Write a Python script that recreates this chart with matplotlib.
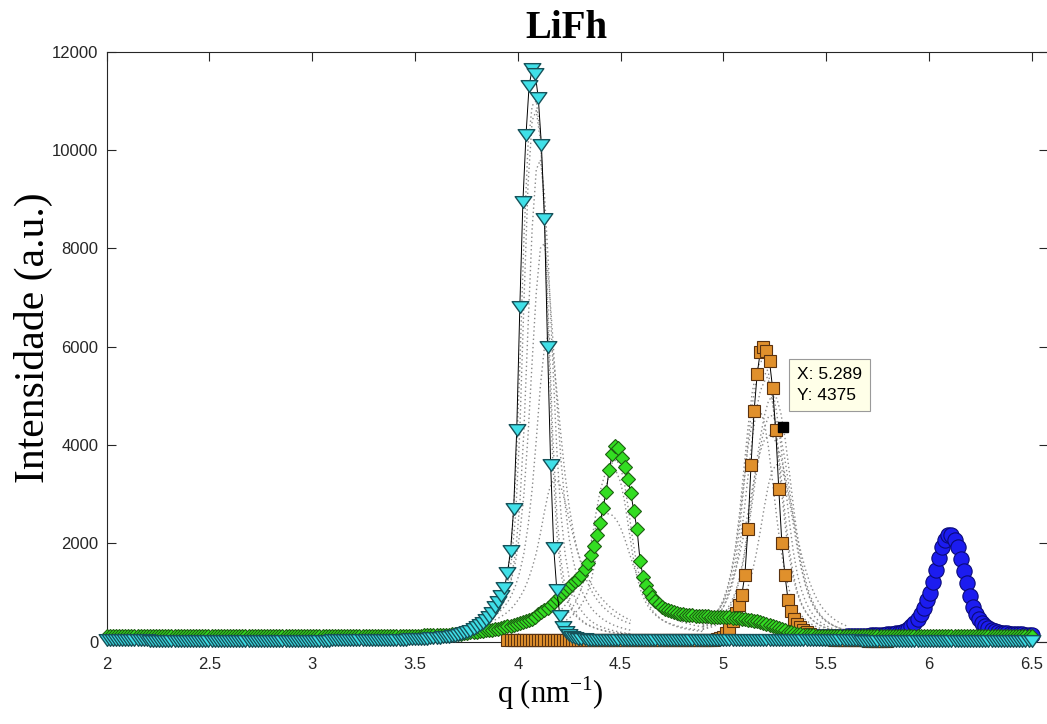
import numpy as np
import matplotlib
matplotlib.use("Agg")
import matplotlib.pyplot as plt
from matplotlib.path import Path

plt.rcParams['font.family'] = 'Liberation Sans'

# q grid of the scans: 2.0 -> 6.5 nm^-1, step 0.015
q = np.linspace(2.0, 6.5, 301)

cyan_int = [
    28, 28, 27, 27, 27, 26, 26, 26, 26, 25,
    25, 25, 25, 25, 24, 24, 24, 24, 24, 24,
    24, 23, 23, 23, 23, 23, 23, 22, 22, 22,
    22, 22, 22, 22, 22, 21, 21, 21, 21, 21,
    21, 21, 21, 21, 21, 21, 21, 21, 21, 21,
    21, 21, 21, 21, 21, 22, 22, 22, 22, 22,
    22, 22, 22, 23, 23, 23, 23, 23, 24, 24,
    24, 24, 24, 25, 25, 25, 26, 26, 26, 27,
    27, 28, 28, 29, 29, 30, 31, 31, 32, 33,
    34, 35, 36, 37, 38, 40, 41, 43, 45, 47,
    49, 52, 55, 58, 62, 66, 70, 75, 80, 86,
    93, 102, 112, 124, 138, 155, 175, 198, 225, 256,
    292, 334, 382, 437, 500, 590, 700, 810, 930, 1100,
    1400, 1850, 2700, 4300, 6800, 8950, 10300, 11300, 11650, 11550,
    11050, 10100, 8600, 6000, 3600, 1900, 1050, 520, 300, 200,
    140, 100, 75, 60, 52, 47, 43, 40, 38, 36,
    36, 35, 34, 33, 33, 32, 32, 31, 31, 31,
    30, 30, 30, 30, 30, 30, 30, 30, 30, 30,
    30, 30, 30, 29, 29, 29, 29, 29, 28, 28,
    28, 28, 28, 27, 27, 27, 27, 27, 27, 26,
    26, 26, 26, 26, 26, 26, 26, 26, 26, 26,
    26, 26, 26, 26, 26, 25, 25, 25, 25, 25,
    25, 25, 25, 25, 25, 25, 25, 25, 25, 25,
    25, 25, 25, 25, 25, 25, 25, 25, 25, 25,
    25, 25, 25, 25, 25, 24, 24, 24, 24, 24,
    24, 24, 24, 24, 24, 24, 24, 24, 24, 24,
    24, 24, 24, 24, 24, 24, 24, 24, 24, 24,
    24, 24, 24, 24, 24, 23, 23, 23, 23, 23,
    23, 23, 23, 23, 23, 23, 23, 23, 23, 23,
    23, 23, 23, 23, 23, 23, 23, 23, 23, 23,
    23,
]

green_int = [
    120, 120, 120, 119, 119, 119, 119, 118, 118, 118,
    118, 118, 118, 118, 117, 117, 117, 117, 117, 117,
    117, 117, 117, 117, 117, 117, 117, 117, 117, 117,
    117, 117, 117, 117, 117, 117, 117, 117, 117, 117,
    117, 117, 117, 117, 117, 117, 117, 117, 117, 117,
    117, 117, 117, 117, 117, 117, 117, 117, 117, 117,
    117, 117, 117, 117, 117, 117, 118, 118, 118, 118,
    118, 118, 118, 118, 118, 118, 118, 118, 118, 118,
    118, 118, 118, 118, 119, 119, 119, 119, 119, 119,
    119, 119, 120, 120, 120, 120, 121, 121, 121, 122,
    123, 124, 125, 126, 128, 129, 131, 133, 135, 137,
    140, 144, 149, 154, 160, 166, 173, 181, 189, 197,
    205, 212, 220, 228, 237, 246, 256, 267, 280, 294,
    310, 325, 340, 357, 375, 395, 417, 442, 470, 510,
    560, 600, 640, 690, 740, 800, 860, 920, 990, 1060,
    1120, 1180, 1230, 1280, 1360, 1470, 1600, 1760, 1950, 2180,
    2420, 2720, 3050, 3500, 3820, 3990, 3930, 3740, 3550, 3310,
    3020, 2650, 2300, 1650, 1320, 1150, 1020, 910, 820, 760,
    710, 670, 640, 615, 595, 580, 567, 556, 547, 540,
    534, 529, 525, 521, 518, 515, 512, 509, 506, 503,
    500, 496, 492, 487, 481, 474, 466, 457, 447, 436,
    425, 413, 400, 385, 368, 348, 326, 302, 277, 252,
    228, 206, 187, 171, 158, 148, 140, 134, 130, 127,
    125, 123, 122, 121, 120, 120, 119, 119, 119, 118,
    118, 118, 118, 118, 118, 118, 118, 118, 118, 118,
    118, 118, 118, 117, 117, 117, 117, 117, 117, 117,
    117, 117, 117, 117, 117, 117, 117, 117, 117, 117,
    117, 117, 117, 117, 117, 116, 116, 116, 116, 116,
    116, 116, 116, 116, 116, 116, 116, 116, 116, 116,
    116, 116, 116, 116, 116, 116, 116, 116, 116, 116,
    116,
]

# orange scan starts at q = 3.95
orange_int = [
    40, 40, 40, 40, 40, 40, 40, 40, 40, 40,
    40, 40, 40, 40, 40, 40, 40, 40, 40, 40,
    40, 40, 40, 40, 40, 40, 40, 40, 38, 36,
    36, 35, 34, 33, 33, 32, 32, 31, 31, 31,
    30, 30, 30, 30, 30, 30, 30, 30, 30, 30,
    30, 30, 30, 29, 29, 29, 29, 29, 28, 28,
    28, 28, 28, 27, 27, 27, 27, 35, 48, 65,
    100, 170, 280, 420, 580, 750, 950, 1360, 2300, 3600,
    4700, 5450, 5900, 6000, 5920, 5700, 5150, 4300, 3100, 2000,
    1350, 850, 630, 470, 360, 290, 240, 190, 150, 120,
    100, 85, 72, 62, 55, 48, 42, 38, 34, 31,
    29, 27, 26, 25, 25, 25, 25, 24, 24, 24,
    24, 24, 24, 24,
]

# blue scan starts at q = 5.45
blue_int = [
    95, 96, 97, 98, 99, 100, 101, 102, 103, 104,
    106, 108, 110, 112, 114, 117, 120, 123, 126, 130,
    134, 138, 143, 148, 154, 160, 168, 178, 192, 215,
    260, 320, 390, 470, 560, 690, 850, 1000, 1220, 1450,
    1710, 1920, 2075, 2165, 2165, 2070, 1920, 1690, 1430, 1195,
    935, 715, 560, 465, 390, 320, 270, 235, 210, 195,
    185, 175, 168, 162, 157, 153, 150, 147, 144, 142,
    140,
]

# gray dotted traces, coarser grid
qa = np.linspace(3.85, 4.55, 36)
gray_a = [
    [450, 520, 620, 760, 980, 1350, 2050, 3400, 5600, 8200, 10100, 10900,
     11000, 10300, 8600, 6100, 3700, 2200, 1400, 980, 740, 590, 490, 420,
     360, 320, 285, 255, 230, 210, 195, 180, 170, 160, 152, 145],
    [440, 500, 590, 710, 890, 1180, 1680, 2600, 4300, 6900, 9300, 10600,
     10800, 10200, 8700, 6500, 4200, 2600, 1650, 1120, 820, 640, 520, 440,
     375, 330, 292, 262, 237, 216, 200, 186, 174, 164, 155, 148],
    [420, 480, 560, 660, 800, 1000, 1320, 1850, 2800, 4300, 6400, 8400,
     9600, 9800, 9100, 7600, 5700, 3900, 2600, 1800, 1300, 980, 770, 630,
     520, 440, 380, 330, 295, 265, 240, 220, 200, 185, 172, 160],
    [480, 540, 620, 720, 850, 1030, 1280, 1650, 2200, 3000, 4200, 5700,
     7100, 8000, 8100, 7400, 6200, 4900, 3700, 2800, 2100, 1650, 1300, 1050,
     870, 730, 620, 540, 470, 415, 370, 330, 300, 275, 252, 232],
    [420, 470, 530, 600, 690, 800, 950, 1150, 1420, 1800, 2350, 3100,
     4100, 5200, 6000, 6250, 5900, 5100, 4200, 3400, 2750, 2250, 1850, 1550,
     1300, 1100, 950, 830, 730, 650, 580, 520, 470, 430, 395, 365],
    [380, 410, 445, 490, 540, 600, 680, 780, 900, 1050, 1250, 1500,
     1800, 2200, 2650, 3050, 3280, 3300, 3150, 2850, 2500, 2150, 1850, 1600,
     1400, 1230, 1090, 970, 870, 780, 700, 630, 570, 520, 475, 435],
]

qb = np.linspace(4.20, 4.90, 36)
gray_b = [
    [420, 480, 560, 660, 790, 970, 1220, 1580, 2050, 2600, 3050, 3350,
     3480, 3500, 3450, 3250, 2850, 2300, 1750, 1320, 1020, 820, 680, 580,
     505, 450, 405, 370, 340, 315, 295, 278, 263, 250, 240, 230],
    [600, 690, 790, 920, 1080, 1280, 1520, 1800, 2080, 2330, 2500, 2590,
     2600, 2570, 2480, 2320, 2100, 1840, 1580, 1350, 1150, 990, 860, 760,
     680, 610, 555, 505, 465, 430, 400, 375, 352, 332, 315, 300],
    [360, 400, 450, 510, 590, 690, 830, 1020, 1300, 1700, 2250, 2850,
     3350, 3650, 3700, 3550, 3200, 2650, 2050, 1550, 1180, 920, 740, 610,
     520, 450, 400, 360, 325, 298, 275, 256, 240, 227, 216, 206],
]

qc = np.linspace(4.90, 5.60, 36)
gray_c = [
    [350, 400, 470, 560, 680, 850, 1100, 1450, 1950, 2650, 3500, 4350,
     5050, 5500, 5700, 5700, 5450, 4900, 4100, 3200, 2400, 1750, 1300, 980,
     760, 610, 500, 420, 360, 315, 280, 250, 228, 210, 195, 182],
    [300, 340, 390, 460, 560, 700, 900, 1200, 1650, 2300, 3150, 4050,
     4800, 5300, 5500, 5500, 5300, 4850, 4200, 3400, 2600, 1900, 1380, 1020,
     780, 620, 500, 415, 355, 310, 275, 247, 225, 207, 192, 180],
    [330, 370, 420, 490, 580, 700, 870, 1100, 1450, 1950, 2600, 3350,
     4100, 4700, 5100, 5300, 5300, 5100, 4650, 4000, 3250, 2500, 1850, 1380,
     1050, 820, 650, 530, 440, 375, 325, 285, 255, 232, 212, 196],
    [300, 330, 370, 420, 480, 560, 670, 820, 1020, 1320, 1750, 2300,
     2950, 3600, 4150, 4600, 4900, 5000, 4950, 4650, 4150, 3500, 2800, 2150,
     1650, 1250, 970, 770, 620, 510, 430, 370, 320, 285, 255, 230],
    [260, 290, 325, 370, 430, 510, 620, 770, 980, 1270, 1680, 2200,
     2800, 3400, 3950, 4350, 4580, 4600, 4450, 4150, 3700, 3150, 2550, 1980,
     1500, 1150, 890, 710, 580, 485, 415, 360, 318, 285, 258, 236],
    [380, 430, 490, 570, 670, 800, 970, 1180, 1450, 1780, 2180, 2620,
     3080, 3520, 3870, 4100, 4200, 4180, 4030, 3760, 3400, 2980, 2550, 2140,
     1780, 1470, 1210, 1000, 830, 700, 600, 520, 455, 400, 356, 320],
    [330, 380, 445, 530, 650, 820, 1060, 1400, 1880, 2520, 3250, 3950,
     4450, 4700, 4700, 4450, 3950, 3250, 2520, 1880, 1400, 1060, 820, 650,
     530, 445, 380, 330, 290, 260, 235, 215, 198, 184, 172, 162],
    [250, 270, 295, 325, 360, 405, 460, 530, 620, 740, 900, 1110,
     1400, 1780, 2250, 2750, 3200, 3500, 3600, 3550, 3300, 2900, 2400, 1900,
     1480, 1150, 900, 720, 590, 490, 415, 360, 315, 280, 250, 228],
]

# data cursor
tip_x, tip_y = 5.289, 4375

q_orange = q[130:130 + len(orange_int)]
q_blue = q[230:230 + len(blue_int)]

fig = plt.figure(figsize=(10.47, 7.24), dpi=100, facecolor='w')
ax = fig.add_axes([0.1019, 0.1137, 0.8991, 0.8149])

for qq, traces in ((qa, gray_a), (qb, gray_b), (qc, gray_c)):
    for tr in traces:
        ax.plot(qq, tr, color='#8a8a8a', lw=1.0, ls=(0, (1, 2)), zorder=1)

# wide MATLAB-style down triangle
tri = Path([(-1.0, 0.7), (1.0, 0.7), (0.0, -0.7), (-1.0, 0.7)], closed=True)

ax.plot(q_blue, blue_int, '-', color='k', lw=0.7, marker='o', ms=11,
        mfc='#1c1cf0', mec='#0a0a78', mew=0.8, zorder=3, clip_on=False)
ax.plot(q_orange, orange_int, '-', color='k', lw=0.7, marker='s', ms=8.5,
        mfc='#e0902c', mec='#5a3210', mew=0.8, zorder=4, clip_on=False)
ax.plot(q, green_int, '-', color='k', lw=0.7, marker='D', ms=7.5,
        mfc='#33dd22', mec='#1d5e12', mew=0.8, zorder=5, clip_on=False)
ax.plot(q, cyan_int, '-', color='k', lw=0.7, marker=tri, ms=12,
        mfc='#40e0e8', mec='#17525a', mew=1.0, zorder=6, clip_on=False)

ax.plot(tip_x, tip_y, 's', color='k', ms=7, zorder=10)
ax.text(tip_x + 0.07, tip_y + 850, 'X: %.3f\nY: %d' % (tip_x, tip_y),
        ha='left', va='center', fontsize=12.5, linespacing=1.5, zorder=11,
        bbox=dict(boxstyle='square,pad=0.45', fc='#ffffe8', ec='#9a9a9a', lw=0.8))

ax.set_xlim(2, 6.58)
ax.set_ylim(0, 12000)
ax.set_xticks(np.arange(2, 6.51, 0.5))
ax.set_xticklabels(['2', '2.5', '3', '3.5', '4', '4.5', '5', '5.5', '6', '6.5'])
ax.set_yticks(np.arange(0, 12001, 2000))

for s in ax.spines.values():
    s.set_color('#262626')
    s.set_linewidth(0.8)
ax.tick_params(direction='in', length=6.5, width=0.8, colors='#262626',
               labelsize=12, top=True, right=True)
ax.tick_params(axis='x', pad=11)
ax.tick_params(axis='y', pad=6)

ax.set_xlabel('q (nm$^{\\mathregular{-1}}$)', fontsize=22, family='Liberation Serif')
ax.xaxis.set_label_coords(0.471, -0.087)
ax.xaxis.label.set_va('center')
ax.set_ylabel('Intensidade (a.u.)', fontsize=30, family='Liberation Serif')
ax.yaxis.set_label_coords(-0.078, 0.516)
ax.yaxis.label.set_va('center')
ax.text(0.488, 1.040, 'LiFh', transform=ax.transAxes, ha='center', va='center',
        fontsize=28, fontweight='bold', family='Liberation Serif')

fig.savefig('out.png', dpi=100)
